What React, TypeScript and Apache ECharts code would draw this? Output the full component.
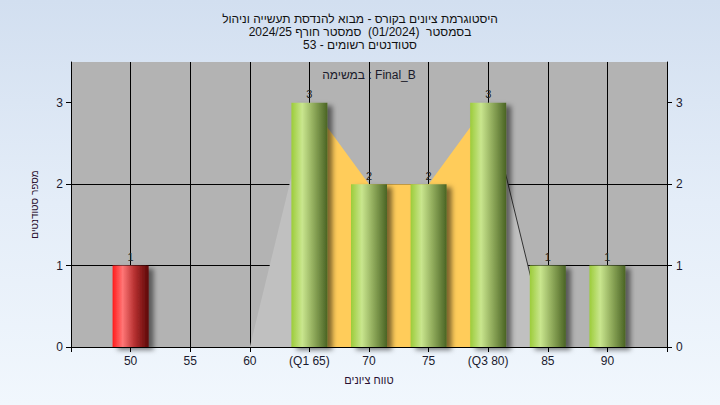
import React, { useEffect, useRef } from 'react';
import * as echarts from 'echarts';

const titleLines = [
  'היסטוגרמת ציונים בקורס - מבוא להנדסת תעשייה וניהול',
  'בסמסטר  (01/2024)  סמסטר חורף 2024/25',
  'סטודנטים רשומים - 53',
];
const assignmentLabel = 'במשימה : Final_B';
const xAxisName = 'טווח ציונים';
const yAxisName = 'מספר סטודנטים';

const grades = [50, 55, 60, 65, 70, 75, 80, 85, 90];
const counts = [1, 0, 0, 3, 2, 2, 3, 1, 1];
const q1 = 65;
const q3 = 80;
const failThreshold = 55;
const yTickValues = [0, 1, 2, 3];
const leftWedge = [[60, 0], [65, 3]];
const rightWedge = [[80, 3], [85, 0]];

const FONT = '"Liberation Sans", Arial, "DejaVu Sans", sans-serif';

export default function App() {
  const ref = useRef<HTMLDivElement>(null);
  useEffect(() => {
    if (!ref.current) return;
    const chart = echarts.init(ref.current, undefined, { renderer: 'svg' });

    const green = new echarts.graphic.LinearGradient(0, 0, 1, 0, [
      { offset: 0, color: '#9ccc3a' },
      { offset: 0.3, color: '#c9e68e' },
      { offset: 0.6, color: '#93ae5e' },
      { offset: 1, color: '#4a6424' },
    ]);
    const red = new echarts.graphic.LinearGradient(0, 0, 1, 0, [
      { offset: 0, color: '#ff1c1c' },
      { offset: 0.28, color: '#ff7676' },
      { offset: 0.6, color: '#b83232' },
      { offset: 1, color: '#5c0606' },
    ]);

    const iqr = grades
      .map((g, i) => [g, counts[i]])
      .filter((p) => p[0] >= q1 && p[0] <= q3);

    const xLabel = (v: number) => {
      if (v === q1) return `(Q1 ${v})`;
      if (v === q3) return `(Q3 ${v})`;
      if (grades.indexOf(v) < 0) return '';
      return String(v);
    };

    chart.setOption({
      animation: false,
      backgroundColor: 'transparent',
      textStyle: { fontFamily: FONT },
      title: {
        text: titleLines.join('\n'),
        left: 'center',
        top: 7,
        textStyle: { fontSize: 12, fontWeight: 'normal', lineHeight: 13, color: '#111', fontFamily: FONT },
      },
      graphic: [
        {
          type: 'text',
          x: 369,
          y: 75,
          z: 10,
          style: {
            text: assignmentLabel,
            textAlign: 'center',
            textVerticalAlign: 'middle',
            font: `12px ${FONT}`,
            fill: '#1a1a2a',
          },
        },
      ],
      grid: {
        left: 71,
        right: 53,
        top: 62,
        bottom: 58,
        show: true,
        backgroundColor: '#b3b3b3',
        borderWidth: 0,
      },
      xAxis: {
        type: 'value',
        min: 45,
        max: 95,
        interval: 5,
        name: xAxisName,
        nameLocation: 'middle',
        nameGap: 27,
        nameTextStyle: { fontSize: 11, color: '#2a1030', fontFamily: FONT },
        axisLine: { show: true, lineStyle: { color: '#000', width: 1 } },
        axisTick: { show: true, length: 5, lineStyle: { color: '#000' } },
        axisLabel: { formatter: xLabel, fontSize: 12, color: '#1a1a2e', margin: 8, fontFamily: FONT },
        splitLine: { show: true, showMinLine: false, showMaxLine: false, lineStyle: { color: '#000', width: 1 } },
      },
      yAxis: [
        {
          type: 'value',
          min: 0,
          max: 3.5,
          interval: 1,
          position: 'left',
          name: yAxisName,
          nameLocation: 'middle',
          nameGap: 32,
          nameTextStyle: { fontSize: 10, color: '#2a1030', fontFamily: FONT },
          axisLine: { show: true, lineStyle: { color: '#000', width: 1 } },
          axisTick: { show: true, length: 5, customValues: yTickValues, lineStyle: { color: '#000' } },
          axisLabel: { customValues: yTickValues, fontSize: 12, color: '#1a1a2e', margin: 8, fontFamily: FONT },
          splitLine: { show: true, showMinLine: false, showMaxLine: false, lineStyle: { color: '#000', width: 1 } },
        },
        {
          type: 'value',
          min: 0,
          max: 3.5,
          interval: 1,
          position: 'right',
          axisLine: { show: true, lineStyle: { color: '#000', width: 1 } },
          axisTick: { show: true, length: 5, customValues: yTickValues, lineStyle: { color: '#000' } },
          axisLabel: { customValues: yTickValues, fontSize: 12, color: '#1a1a2e', margin: 9, fontFamily: FONT },
          splitLine: { show: false },
        },
      ],
      series: [
        {
          type: 'line',
          data: leftWedge,
          showSymbol: false,
          lineStyle: { width: 0 },
          areaStyle: { color: '#c0c0c0', opacity: 1 },
          z: 1,
          silent: true,
        },
        {
          type: 'line',
          data: rightWedge,
          showSymbol: false,
          lineStyle: { width: 1, color: '#333' },
          areaStyle: { color: '#c0c0c0', opacity: 1 },
          z: 1,
          silent: true,
        },
        {
          type: 'line',
          data: iqr,
          showSymbol: false,
          lineStyle: { width: 0 },
          areaStyle: { color: '#ffcc5a', opacity: 1 },
          z: 1,
          silent: true,
        },
        {
          type: 'bar',
          barWidth: 36,
          z: 3,
          data: grades.map((g, i) => ({
            value: [g, counts[i]],
            itemStyle: {
              color: g < failThreshold ? red : green,
              shadowBlur: 5,
              shadowOffsetX: 5,
              shadowOffsetY: 3,
              shadowColor: 'rgba(0,0,0,0.5)',
            },
          })),
          label: {
            show: true,
            position: 'top',
            distance: 3,
            fontSize: 11,
            color: '#222',
            fontFamily: FONT,
            formatter: (p: any) => (p.value[1] > 0 ? String(p.value[1]) : ''),
          },
        },
      ],
    });

    return () => chart.dispose();
  }, []);

  return (
    <div
      ref={ref}
      style={{
        position: 'fixed',
        left: 0,
        top: 0,
        width: 720,
        height: 405,
        background: 'linear-gradient(180deg, #d2dff0 0%, #e4edf8 50%, #f1f7fd 100%)',
      }}
    />
  );
}
